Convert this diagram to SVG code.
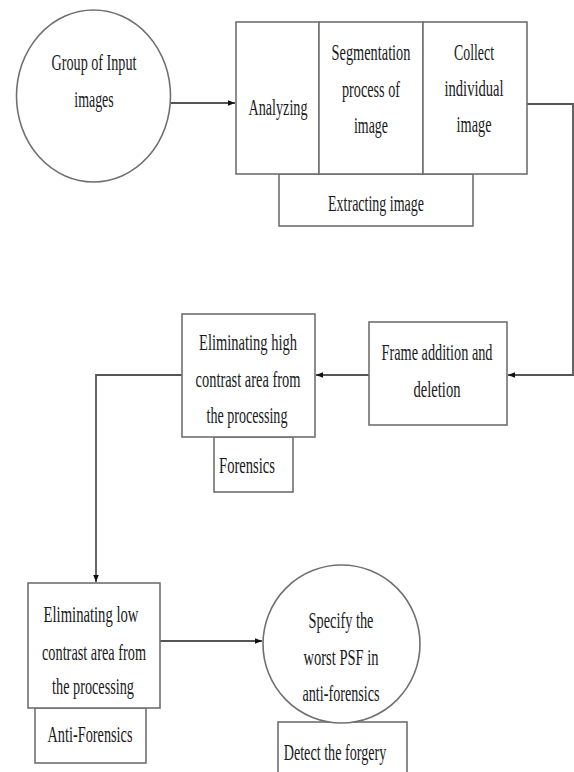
<svg xmlns="http://www.w3.org/2000/svg" width="574" height="772" viewBox="0 0 574 772">
<defs>
<marker id="arr" viewBox="0 0 10 10" refX="10" refY="5" markerWidth="7" markerHeight="7" markerUnits="userSpaceOnUse" orient="auto">
<path d="M0,1 L10,5 L0,9 z" fill="#111"/>
</marker>
<style>
.shape{fill:#fff;stroke:#707070;stroke-width:1.6}
.conn{fill:none;stroke:#555;stroke-width:1.8}
text{font-family:"Liberation Serif","Times New Roman",serif;font-size:24px;fill:#1a1a1a;text-anchor:middle}
</style>
</defs>
<rect width="574" height="772" fill="#fff"/>
<g id="connectors">
<path class="conn" d="M170,103 H235" marker-end="url(#arr)"/>
<path class="conn" d="M527,104 H573 V375 H508" marker-end="url(#arr)"/>
<path class="conn" d="M369,375 H316" marker-end="url(#arr)"/>
<path class="conn" d="M182,375 H96 V582" marker-end="url(#arr)"/>
<path class="conn" d="M160,641 H262" marker-end="url(#arr)"/>
</g>
<g id="input-images">
<ellipse class="shape" cx="93.5" cy="96" rx="77" ry="86"/>
<text transform="translate(94,70) scale(0.59,1)">Group of Input</text>
<text transform="translate(94,107) scale(0.58,1)">images</text>
</g>
<g id="extracting-image">
<rect class="shape" x="279" y="174" width="194" height="52"/>
<text transform="translate(376,211) scale(0.583,1)">Extracting image</text>
</g>
<g id="analyzing">
<rect class="shape" x="236" y="22" width="83" height="152"/>
<text transform="translate(278,115) scale(0.59,1)">Analyzing</text>
</g>
<g id="segmentation">
<rect class="shape" x="319" y="22" width="104" height="152"/>
<text transform="translate(371,60) scale(0.598,1)">Segmentation</text>
<text transform="translate(371,97) scale(0.592,1)">process of</text>
<text transform="translate(371,133) scale(0.58,1)">image</text>
</g>
<g id="collect">
<rect class="shape" x="423" y="22" width="104" height="152"/>
<text transform="translate(474,60) scale(0.577,1)">Collect</text>
<text transform="translate(474,96) scale(0.606,1)">individual</text>
<text transform="translate(474,132) scale(0.596,1)">image</text>
</g>
<g id="frame">
<rect class="shape" x="369" y="322" width="138" height="103"/>
<text transform="translate(437,360) scale(0.595,1)">Frame addition and</text>
<text transform="translate(437,397) scale(0.608,1)">deletion</text>
</g>
<g id="forensics">
<rect class="shape" x="214" y="437" width="79" height="55"/>
<text transform="translate(247,473) scale(0.609,1)">Forensics</text>
</g>
<g id="elim-high">
<rect class="shape" x="182" y="314" width="133" height="123"/>
<text transform="translate(248,350) scale(0.605,1)">Eliminating high</text>
<text transform="translate(248,387) scale(0.601,1)">contrast area from</text>
<text transform="translate(247,423) scale(0.587,1)">the processing</text>
</g>
<g id="anti-forensics">
<rect class="shape" x="35" y="708" width="111" height="55"/>
<text transform="translate(90,742) scale(0.596,1)">Anti-Forensics</text>
</g>
<g id="elim-low">
<rect class="shape" x="28" y="583" width="132" height="125"/>
<text transform="translate(91,622) scale(0.611,1)">Eliminating low</text>
<text transform="translate(94,660) scale(0.596,1)">contrast area from</text>
<text transform="translate(93,694) scale(0.594,1)">the processing</text>
</g>
<g id="detect">
<rect class="shape" x="278" y="722" width="129" height="60"/>
<text transform="translate(335,760) scale(0.59,1)">Detect the forgery</text>
</g>
<g id="specify">
<ellipse class="shape" cx="341.5" cy="644" rx="78.5" ry="79"/>
<text transform="translate(341,628) scale(0.598,1)">Specify the</text>
<text transform="translate(341,665) scale(0.605,1)">worst PSF in</text>
<text transform="translate(341,701) scale(0.59,1)">anti-forensics</text>
</g>
</svg>
